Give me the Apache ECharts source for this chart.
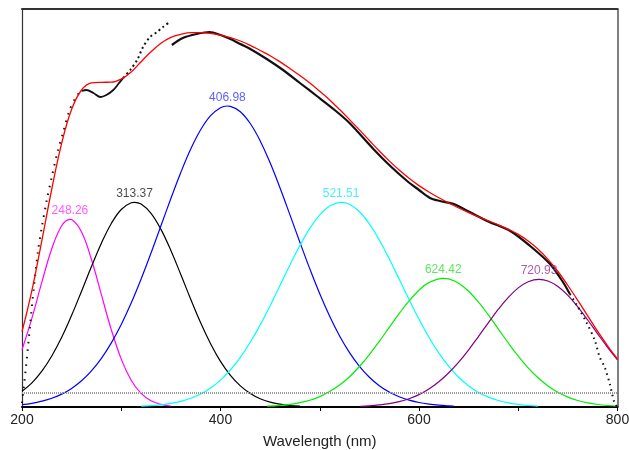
<!DOCTYPE html>
<html>
<head>
<meta charset="utf-8">
<script src="https://cdn.jsdelivr.net/npm/echarts@6/dist/echarts.min.js"></script>
<style>
  html, body { margin: 0; padding: 0; background: #fff; }
  #chart { width: 629px; height: 450px; }
</style>
</head>
<body>
<div id="chart"></div>
<script>
// wavelength (nm) vs absorbance (a.u., plot-height units)
var tickLabels = [200, 400, 600, 800];
var peakCentres = [248.26, 313.37, 406.98, 521.51, 624.42, 720.93];
var peakHeights = [187.7, 204.7, 301.0, 204.7, 128.7, 127.7];
var peakLabels = ['248.26', '313.37', '406.98', '521.51', '624.42', '720.93'];
var baseline = [14.3];

var band248 = [[200,57.2],[210,88.9],[220,124.8],[230,158.3],[240,181.3],[248.26,187.7],[250,187.4],[260,175.0],[270,147.5],[280,112.3],[290,77.2],[300,47.9],[310,26.8],[320,13.6],[330,6.2],[340,2.6],[350,1.0]];
var band313 = [[200,15.7],[210,24.1],[220,35.8],[230,51.0],[240,69.7],[250,91.7],[260,115.8],[270,140.5],[280,163.8],[290,183.5],[300,197.5],[310,204.2],[313.37,204.7],[320,202.9],[330,193.7],[340,177.6],[350,156.5],[360,132.5],[370,107.8],[380,84.2],[390,63.3],[400,45.6],[410,31.6],[420,21.1],[430,13.5],[440,8.3],[450,4.9],[460,2.8],[470,1.5],[480,0.8]];
var band407 = [[200,2.4],[210,3.7],[220,5.8],[230,8.7],[240,12.9],[250,18.6],[260,26.2],[270,36.1],[280,48.6],[290,64.1],[300,82.5],[310,103.9],[320,128.0],[330,154.0],[340,181.3],[350,208.5],[360,234.5],[370,257.9],[380,277.2],[390,291.3],[400,299.3],[406.98,301.0],[410,300.7],[420,295.3],[430,283.5],[440,266.1],[450,244.2],[460,219.0],[470,192.1],[480,164.7],[490,138.1],[500,113.2],[510,90.7],[520,71.0],[530,54.4],[540,40.7],[550,29.8],[560,21.3],[570,14.9],[580,10.2],[590,6.8],[600,4.5],[610,2.9],[620,1.8],[630,1.1],[635,0.9]];
var band522 = [[320,0.8],[330,1.3],[340,2.2],[350,3.6],[360,5.7],[370,8.7],[380,13.0],[390,19.0],[400,26.9],[410,37.0],[420,49.6],[430,64.7],[440,82.1],[450,101.3],[460,121.7],[470,142.1],[480,161.5],[490,178.6],[500,192.1],[510,201.0],[521.51,204.7],[530,202.7],[540,195.3],[550,183.1],[560,167.0],[570,148.2],[580,127.9],[590,107.4],[600,87.7],[610,69.7],[620,53.9],[630,40.6],[640,29.7],[650,21.1],[660,14.6],[670,9.9],[680,6.5],[690,4.1],[700,2.6],[710,1.5],[720,0.9]];
var band624 = [[447,0.8],[460,1.6],[470,2.7],[480,4.4],[490,6.8],[500,10.4],[510,15.4],[520,21.9],[530,30.3],[540,40.5],[550,52.4],[560,65.6],[570,79.6],[580,93.4],[590,106.2],[600,116.8],[610,124.4],[624.42,128.7],[630,128.1],[640,123.7],[650,115.7],[660,104.8],[670,91.9],[680,77.9],[690,64.0],[700,50.9],[710,39.2],[720,29.2],[730,21.1],[740,14.7],[750,9.9],[760,6.5],[770,4.1],[780,2.5],[790,1.5],[800,0.9]];
var band721 = [[541,0.7],[550,1.2],[560,2.1],[570,3.4],[580,5.4],[590,8.3],[600,12.4],[610,18.0],[620,25.2],[630,34.2],[640,44.9],[650,57.2],[660,70.7],[670,84.4],[680,97.8],[690,109.6],[700,119.1],[710,125.3],[720.93,127.7],[730,126.0],[740,120.5],[750,111.6],[760,100.1],[770,87.0],[780,73.2],[790,59.7],[800,47.1]];

var fitSum = [[200,75.3],[210,116.7],[220,166.4],[230,218.0],[240,263.9],[250,297.7],[260,317.0],[270,324.1],[280,324.7],[290,324.8],[300,327.9],[310,334.9],[320,345.3],[330,355.2],[340,363.7],[350,369.6],[360,372.7],[370,374.4],[380,374.4],[390,373.6],[400,371.8],[410,369.3],[420,366.0],[430,361.7],[440,356.5],[450,351.3],[460,345.1],[470,338.4],[480,331.4],[490,323.9],[500,315.7],[510,307.1],[520,297.5],[530,287.4],[540,277.1],[550,266.5],[560,256.0],[570,246.1],[580,236.9],[590,228.7],[600,221.4],[610,215.0],[620,209.2],[630,204.0],[640,199.0],[650,194.4],[660,190.1],[670,186.2],[680,182.2],[690,177.7],[700,172.6],[710,166.0],[720,157.8],[730,147.6],[740,135.5],[750,121.5],[760,106.6],[770,91.1],[780,75.7],[790,61.2],[800,48.0]];

// measured spectrum, split where the trace is sparse (dotted) or dense
var measUV = [[200,4],[204,40],[208,80],[212,120],[216,155],[220,180],[225,207],[230,230],[236,256],[241,273],[248,297],[255,311],[260,316]];
var measDip = [[260,316],[265,317],[272,314],[279,310],[285,312],[292,317],[297,323],[302,329]];
var measUV2 = [[302,329],[309,337],[316,347],[322,360],[329,370],[336,375],[342,380],[349,385]];
var measVis = [[351,362],[362,369],[376,373],[389,375],[400,372],[410,368],[420,363],[430,358],[445,349],[463,337],[480,324],[497,311],[515,297],[530,284],[554,258],[570,242],[588,226],[600,217],[611,209],[621,206],[635,203],[651,195],[671,185],[692,176],[712,161],[732,143],[745,125],[752,113]];
var measTail = [[752,113],[759,102],[769,84],[777,67],[782,50],[787,40],[792,24],[797,4],[800,0]];

var bandColors = ['#ff00ff', '#000000', '#0000ff', '#00ffff', '#00ee00', '#800080'];
var labelColors = ['#ff33ff', '#222222', '#3434ff', '#22eeee', '#33e033', '#953595'];
var FONT = "'Liberation Sans', Arial, sans-serif";

var chart = echarts.init(document.getElementById('chart'), null, { renderer: 'canvas' });

function bandSeries(data, i) {
    return {
        type: 'line', data: data, smooth: 0.4, showSymbol: false, silent: true,
        lineStyle: { color: bandColors[i], width: 1.2 }, z: 2
    };
}

function measSeries(data, type, width) {
    return {
        type: 'line', data: data, smooth: 0.3, showSymbol: false, silent: true,
        lineStyle: { color: '#111', width: width, type: type }, z: 3
    };
}

var series = [band248, band313, band407, band522, band624, band721].map(bandSeries);

series[0].markLine = {
    silent: true, symbol: 'none', label: { show: false },
    lineStyle: { color: '#999', width: 2, type: [1, 1] },
    data: [{ yAxis: baseline[0] }]
};

series.push(measSeries(measUV, [1.5, 6], 2));
series.push(measSeries(measDip, 'solid', 1.8));
series.push(measSeries(measUV2, [2, 3], 2));
series.push(measSeries(measVis, 'solid', 2.2));
series.push(measSeries(measTail, [1.5, 4], 2));

series.push({
    type: 'line', data: fitSum, smooth: 0.4, showSymbol: false, silent: true,
    lineStyle: { color: '#ff0000', width: 1.3 }, z: 4
});

series.push({
    type: 'scatter', symbolSize: 1, silent: true, z: 5,
    itemStyle: { color: 'rgba(0,0,0,0)' },
    data: peakCentres.map(function (c, i) {
        return {
            value: [c, peakHeights[i]],
            label: { formatter: peakLabels[i], color: labelColors[i] }
        };
    }),
    label: { show: true, position: 'top', distance: 2, fontSize: 12, fontFamily: FONT }
});

chart.setOption({
    animation: false,
    backgroundColor: '#fff',
    grid: { left: 22, right: 11.5, top: 9, bottom: 43, outerBoundsMode: 'none' },
    xAxis: [{
        type: 'value', min: 200, max: 800, interval: 100,
        name: 'Wavelength (nm)', nameLocation: 'middle', nameGap: 27,
        nameTextStyle: { fontSize: 15, color: '#222', fontFamily: FONT },
        axisLine: { show: true, lineStyle: { color: '#000', width: 2 } },
        axisTick: { show: true, inside: false, length: 4, lineStyle: { color: '#000', width: 1 } },
        axisLabel: {
            fontSize: 14, color: '#222', fontFamily: FONT, margin: 6,
            formatter: function (v) { return tickLabels.indexOf(v) >= 0 ? String(v) : ''; }
        },
        splitLine: { show: false }
    }, {
        type: 'value', min: 200, max: 800, position: 'top',
        axisLine: { show: true, onZero: false, lineStyle: { color: '#333', width: 2 } },
        axisTick: { show: false }, axisLabel: { show: false }, splitLine: { show: false }
    }],
    yAxis: [{
        type: 'value', min: 0, max: 398,
        axisLine: { show: true, lineStyle: { color: '#333', width: 1.2 } },
        axisTick: { show: false }, axisLabel: { show: false }, splitLine: { show: false }
    }, {
        type: 'value', min: 0, max: 398, position: 'right',
        axisLine: { show: true, onZero: false, lineStyle: { color: '#555', width: 1.5 } },
        axisTick: { show: false }, axisLabel: { show: false }, splitLine: { show: false }
    }],
    series: series
});
</script>
</body>
</html>
